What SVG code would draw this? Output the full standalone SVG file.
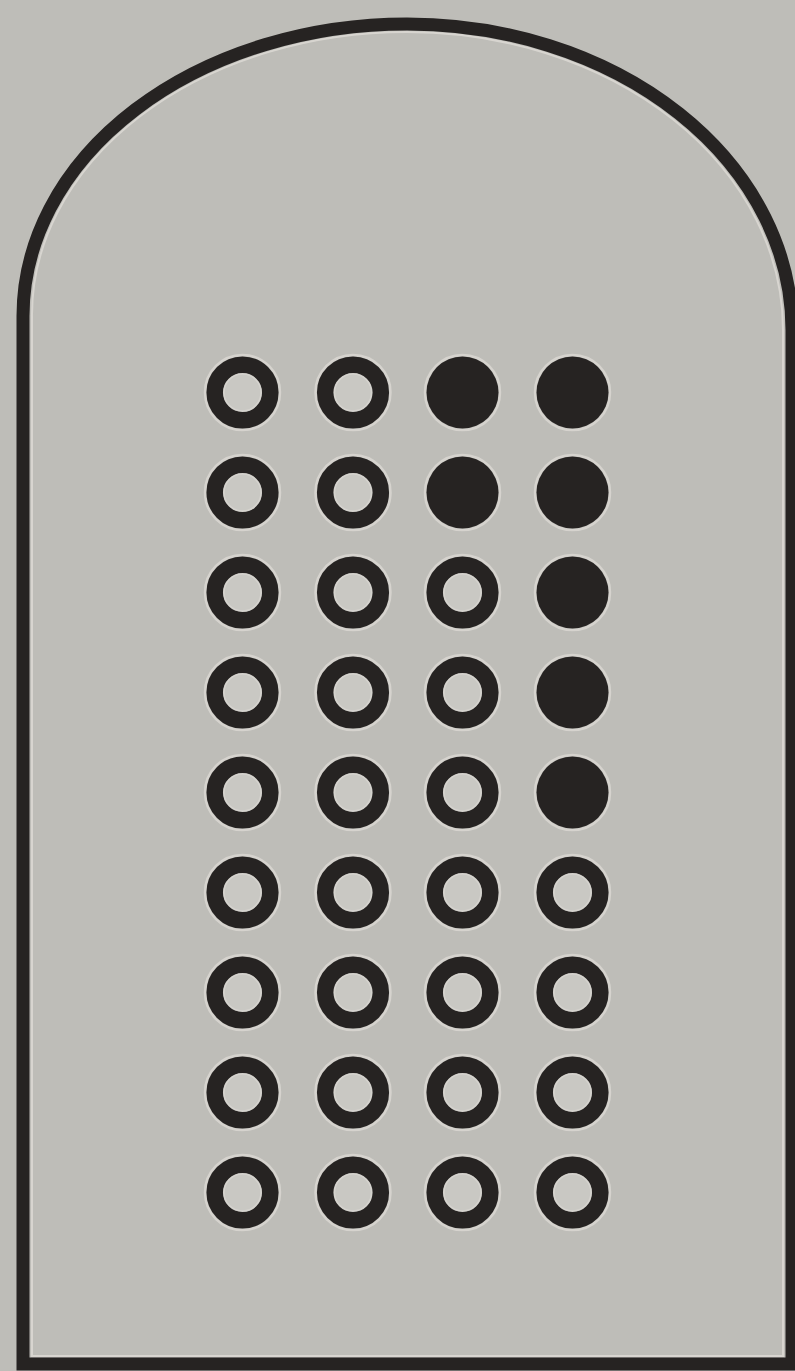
<svg xmlns="http://www.w3.org/2000/svg" width="795" height="1371" viewBox="0 0 795 1371">
<style>
.bg{fill:#bebdb8}
.frame{fill:none;stroke:#262322;stroke-width:13}
.halo{fill:none;stroke:#e2e0da;stroke-width:2;opacity:.7}
.ring{fill:#c9c8c3;stroke:#262322;stroke-width:16.5}
.dot{fill:#262322}
.glow{fill:none;stroke:#dddbd5;stroke-width:2.5;opacity:.75}
</style>
<defs>
<g id="o"><circle class="glow" r="37.5"/><circle class="ring" r="27.8"/><circle r="18.5" fill="none" stroke="#dddbd5" stroke-width="1.5" opacity=".6"/></g>
<g id="f"><circle class="glow" r="37.5"/><circle class="dot" r="36"/></g>
</defs>
<rect class="bg" x="0" y="0" width="795" height="1371"/>
<g id="tablet">
<path class="halo" d="M32,1356 L32,318 A375 283 0 0 1 407,32 A376 298 0 0 1 783,330 L783,1356 Z"/>
<path class="frame" d="M23,1364 L23,316 A384 292 0 0 1 407,24 A385 306 0 0 1 792,330 L792,1364 Z"/>
</g>
<g id="grid">
<g id="r1c1"><use href="#o" x="242.5" y="392.5"/></g>
<g id="r1c2"><use href="#o" x="353" y="392.5"/></g>
<g id="r1c3"><use href="#f" x="462.5" y="392.5"/></g>
<g id="r1c4"><use href="#f" x="572.5" y="392.5"/></g>
<g id="r2c1"><use href="#o" x="242.5" y="492.5"/></g>
<g id="r2c2"><use href="#o" x="353" y="492.5"/></g>
<g id="r2c3"><use href="#f" x="462.5" y="492.5"/></g>
<g id="r2c4"><use href="#f" x="572.5" y="492.5"/></g>
<g id="r3c1"><use href="#o" x="242.5" y="592.5"/></g>
<g id="r3c2"><use href="#o" x="353" y="592.5"/></g>
<g id="r3c3"><use href="#o" x="462.5" y="592.5"/></g>
<g id="r3c4"><use href="#f" x="572.5" y="592.5"/></g>
<g id="r4c1"><use href="#o" x="242.5" y="692.5"/></g>
<g id="r4c2"><use href="#o" x="353" y="692.5"/></g>
<g id="r4c3"><use href="#o" x="462.5" y="692.5"/></g>
<g id="r4c4"><use href="#f" x="572.5" y="692.5"/></g>
<g id="r5c1"><use href="#o" x="242.5" y="792.5"/></g>
<g id="r5c2"><use href="#o" x="353" y="792.5"/></g>
<g id="r5c3"><use href="#o" x="462.5" y="792.5"/></g>
<g id="r5c4"><use href="#f" x="572.5" y="792.5"/></g>
<g id="r6c1"><use href="#o" x="242.5" y="892.5"/></g>
<g id="r6c2"><use href="#o" x="353" y="892.5"/></g>
<g id="r6c3"><use href="#o" x="462.5" y="892.5"/></g>
<g id="r6c4"><use href="#o" x="572.5" y="892.5"/></g>
<g id="r7c1"><use href="#o" x="242.5" y="992.5"/></g>
<g id="r7c2"><use href="#o" x="353" y="992.5"/></g>
<g id="r7c3"><use href="#o" x="462.5" y="992.5"/></g>
<g id="r7c4"><use href="#o" x="572.5" y="992.5"/></g>
<g id="r8c1"><use href="#o" x="242.5" y="1092.5"/></g>
<g id="r8c2"><use href="#o" x="353" y="1092.5"/></g>
<g id="r8c3"><use href="#o" x="462.5" y="1092.5"/></g>
<g id="r8c4"><use href="#o" x="572.5" y="1092.5"/></g>
<g id="r9c1"><use href="#o" x="242.5" y="1192.5"/></g>
<g id="r9c2"><use href="#o" x="353" y="1192.5"/></g>
<g id="r9c3"><use href="#o" x="462.5" y="1192.5"/></g>
<g id="r9c4"><use href="#o" x="572.5" y="1192.5"/></g>
</g>
<g id="connectors"/>
</svg>
